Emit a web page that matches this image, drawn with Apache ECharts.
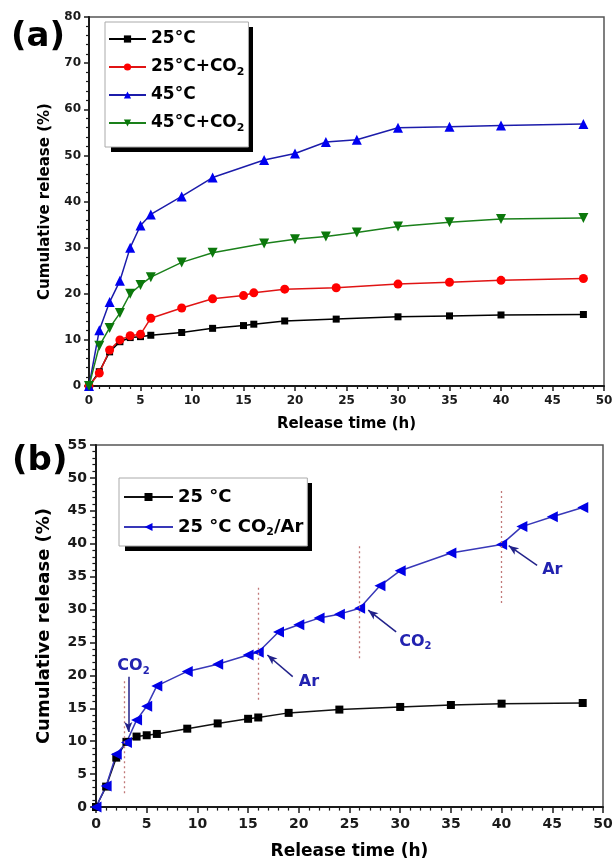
<!DOCTYPE html>
<html><head><meta charset="utf-8">
<script src="https://cdn.jsdelivr.net/npm/echarts@6/dist/echarts.min.js"></script>
<style>html,body{margin:0;padding:0;background:#fff}#c{width:613px;height:861px}</style>
</head><body><div id="c"></div>
<script>
const FONT = 'DejaVu Sans';
// tick labels
const xTicks = [0,5,10,15,20,25,30,35,40,45,50];
const yTicksA = [0,10,20,30,40,50,60,70,80];
const yTicksB = [0,5,10,15,20,25,30,35,40,45,50,55];
// panel (a)
const timeA25 = [0,1,2,3,4,5,6,9,12,15,16,19,24,30,35,40,48];
const rel25 = [0,3.1,7.4,9.6,10.5,10.7,11.0,11.6,12.5,13.1,13.4,14.1,14.5,15.0,15.2,15.4,15.5];
const rel25CO2 = [0,2.8,7.8,10.0,10.9,11.2,14.7,16.9,18.9,19.6,20.2,21.0,21.3,22.1,22.5,22.9,23.3];
const timeA45 = [0,1,2,3,4,5,6,9,12,17,20,23,26,30,35,40,48];
const rel45 = [0,12.1,18.2,22.8,30.0,34.8,37.2,41.1,45.2,49.0,50.4,52.9,53.4,56.0,56.2,56.5,56.8];
const rel45CO2 = [0,8.7,12.6,15.8,20.0,21.9,23.6,26.8,28.9,30.9,31.8,32.4,33.3,34.6,35.5,36.2,36.4];
// panel (b)
const timeB25 = [0,1,2,3,4,5,6,9,12,15,16,19,24,30,35,40,48];
const rel25B = [0,3.1,7.5,9.9,10.7,10.9,11.1,11.9,12.7,13.4,13.6,14.3,14.8,15.2,15.5,15.7,15.8];
const timeBGas = [0,1,2,3,4,5,6,9,12,15,16,18,20,22,24,26,28,30,35,40,42,45,48];
const relGas = [0,3.2,8.0,9.8,13.2,15.3,18.4,20.6,21.7,23.1,23.5,26.6,27.7,28.7,29.3,30.2,33.6,35.9,38.6,39.9,42.6,44.1,45.5];
// gas switch annotations (data coordinates)
const switchTimes = [2.8,16,26,40];
const switchLow = [2.1,16.3,22.6,31.0];
const switchHigh = [19.3,33.5,40.0,48.2];
const annText = ['CO2','Ar','CO2','Ar'];
const annPos = [[3.7,21.4],[21.0,19.0],[31.5,25.1],[45.0,36.0]];
const arrowFrom = [[3.19,19.8],[19.4,19.8],[29.6,26.6],[43.5,36.7]];
const arrowTo = [[3.19,11.4],[16.9,23.1],[26.85,29.9],[40.7,39.7]];

const zip = (xs, ys) => xs.map((x, i) => [x, ys[i]]);
const sub = s => s.replace('CO2', 'CO{s|2}');
const AX = '#1a1a1a';

function axis(kind, ticks, gridIndex, o) {
  return {
    type: 'value', gridIndex,
    min: ticks[0], max: ticks[ticks.length - 1], interval: ticks[1] - ticks[0],
    name: o.name, nameLocation: 'middle', nameGap: o.nameGap,
    nameTextStyle: { fontFamily: FONT, fontWeight: 'bold', fontSize: o.nameSize, color: '#000' },
    axisLine: { show: true, onZero: false, lineStyle: { color: AX, width: 2 } },
    axisTick: { show: true, inside: false, length: o.tick, lineStyle: { color: AX, width: 1.5 } },
    minorTick: { show: true, splitNumber: 5, length: o.tick * 0.6, lineStyle: { color: AX, width: 1.2 } },
    splitLine: { show: false }, minorSplitLine: { show: false },
    axisLabel: { show: true, margin: o.margin, fontFamily: FONT, fontWeight: 'bold', fontSize: o.labelSize, color: AX, hideOverlap: false, showMinLabel: true, showMaxLabel: true }
  };
}

const legendText = (size, lh) => ({
  fontFamily: FONT, fontWeight: 'bold', fontSize: size, color: '#000', lineHeight: lh,
  rich: { s: { fontFamily: FONT, fontWeight: 'bold', fontSize: Math.round(size * 0.62), verticalAlign: 'bottom', lineHeight: Math.round(size * 0.62) } }
});

const option = {
  animation: false,
  backgroundColor: '#fff',
  grid: [
    { left: 89, right: 9, top: 17, bottom: 475, show: true, borderColor: '#555', borderWidth: 1.5, backgroundColor: 'transparent', containLabel: false, outerBoundsMode: 'none' },
    { left: 96, right: 10, top: 445, bottom: 54, show: true, borderColor: '#555', borderWidth: 1.5, backgroundColor: 'transparent', containLabel: false, outerBoundsMode: 'none' }
  ],
  xAxis: [
    axis('x', xTicks, 0, { name: 'Release time (h)', nameGap: 31, nameSize: 15, tick: 5, margin: 9, labelSize: 12 }),
    axis('x', xTicks, 1, { name: 'Release time (h)', nameGap: 36, nameSize: 17, tick: 6, margin: 10, labelSize: 14 })
  ],
  yAxis: [
    axis('y', yTicksA, 0, { name: 'Cumulative release (%)', nameGap: 36, nameSize: 15, tick: 5, margin: 8, labelSize: 12 }),
    axis('y', yTicksB, 1, { name: 'Cumulative release (%)', nameGap: 43, nameSize: 18, tick: 6, margin: 9, labelSize: 14 })
  ],
  legend: [
    {
      data: ['25°C', '25°C+CO2', '45°C', '45°C+CO2'],
      orient: 'vertical', left: 105, top: 22, z: 10,
      padding: [6, 4, 13, 3], itemGap: 6, itemWidth: 37, itemHeight: 9,
      backgroundColor: '#fff', borderColor: '#aaa', borderWidth: 1,
      formatter: sub, textStyle: legendText(17, 22), selectedMode: false
    },
    {
      data: ['25 °C', '25 °C CO2/Ar'],
      orient: 'vertical', left: 119, top: 478, z: 10,
      padding: [8, 4, 8, 4], itemGap: 8, itemWidth: 49, itemHeight: 10,
      backgroundColor: '#fff', borderColor: '#aaa', borderWidth: 1,
      formatter: sub, textStyle: legendText(18, 22), selectedMode: false
    }
  ],
  graphic: [
    { type: 'rect', z: 3, shape: { x: 111, y: 27, width: 142, height: 125 }, style: { fill: '#000' } },
    { type: 'rect', z: 3, shape: { x: 125, y: 483, width: 187, height: 68 }, style: { fill: '#000' } },
    { type: 'text', left: 11, top: 20, style: { text: '(a)', font: 'bold 34px "DejaVu Sans"', fill: '#000' } },
    { type: 'text', left: 12, top: 444, style: { text: '(b)', font: 'bold 34px "DejaVu Sans"', fill: '#000' } }
  ],
  series: [
    { name: '25°C', type: 'line', xAxisIndex: 0, yAxisIndex: 0, data: zip(timeA25, rel25),
      symbol: 'rect', symbolSize: 7, lineStyle: { color: '#000', width: 1.5 }, itemStyle: { color: '#000' } },
    { name: '25°C+CO2', type: 'line', xAxisIndex: 0, yAxisIndex: 0, data: zip(timeA25, rel25CO2),
      symbol: 'circle', symbolSize: 9, lineStyle: { color: '#e01414', width: 1.5 }, itemStyle: { color: '#ff0000' } },
    { name: '45°C', type: 'line', xAxisIndex: 0, yAxisIndex: 0, data: zip(timeA45, rel45),
      symbol: 'triangle', symbolSize: 10, lineStyle: { color: '#1c1caa', width: 1.5 }, itemStyle: { color: '#0000f0' } },
    { name: '45°C+CO2', type: 'line', xAxisIndex: 0, yAxisIndex: 0, data: zip(timeA45, rel45CO2),
      symbol: 'triangle', symbolRotate: 180, symbolSize: 10, lineStyle: { color: '#1a801a', width: 1.5 }, itemStyle: { color: '#0b780b' } },
    { name: '25 °C', type: 'line', xAxisIndex: 1, yAxisIndex: 1, data: zip(timeB25, rel25B),
      symbol: 'rect', symbolSize: 8, lineStyle: { color: '#111', width: 1.5 }, itemStyle: { color: '#000' } },
    { name: '25 °C CO2/Ar', type: 'line', xAxisIndex: 1, yAxisIndex: 1, data: zip(timeBGas, relGas),
      symbol: 'triangle', symbolRotate: 90, symbolSize: 11, lineStyle: { color: '#3838b8', width: 1.5 }, itemStyle: { color: '#0000e6' },
      markLine: {
        silent: true, animation: false, label: { show: false },
        data: switchTimes.map((t, i) => [
          { coord: [t, switchLow[i]], symbol: 'none', lineStyle: { color: '#c07878', type: [2, 3], width: 1.3 } },
          { coord: [t, switchHigh[i]], symbol: 'none' }
        ]).concat(arrowFrom.map((p, i) => [
          { coord: p, symbol: 'none', lineStyle: { color: '#22228a', type: 'solid', width: 1.5 } },
          { coord: arrowTo[i], symbol: 'arrow', symbolSize: [6, 10] }
        ]))
      },
      markPoint: {
        silent: true, symbol: 'circle', symbolSize: 1, itemStyle: { color: 'rgba(0,0,0,0)' },
        label: { show: true, position: 'inside', color: '#2222b0', fontFamily: FONT, fontWeight: 'bold', fontSize: 16, lineHeight: 20,
          formatter: p => sub(annText[p.dataIndex]),
          rich: { s: { fontFamily: FONT, fontWeight: 'bold', fontSize: 10, color: '#2222b0', verticalAlign: 'bottom', lineHeight: 10 } } },
        data: annPos.map((p, i) => ({ coord: p, value: i }))
      }
    }
  ]
};
const chart = echarts.init(document.getElementById('c'), null, { renderer: 'canvas' });
chart.setOption(option);
</script></body></html>
